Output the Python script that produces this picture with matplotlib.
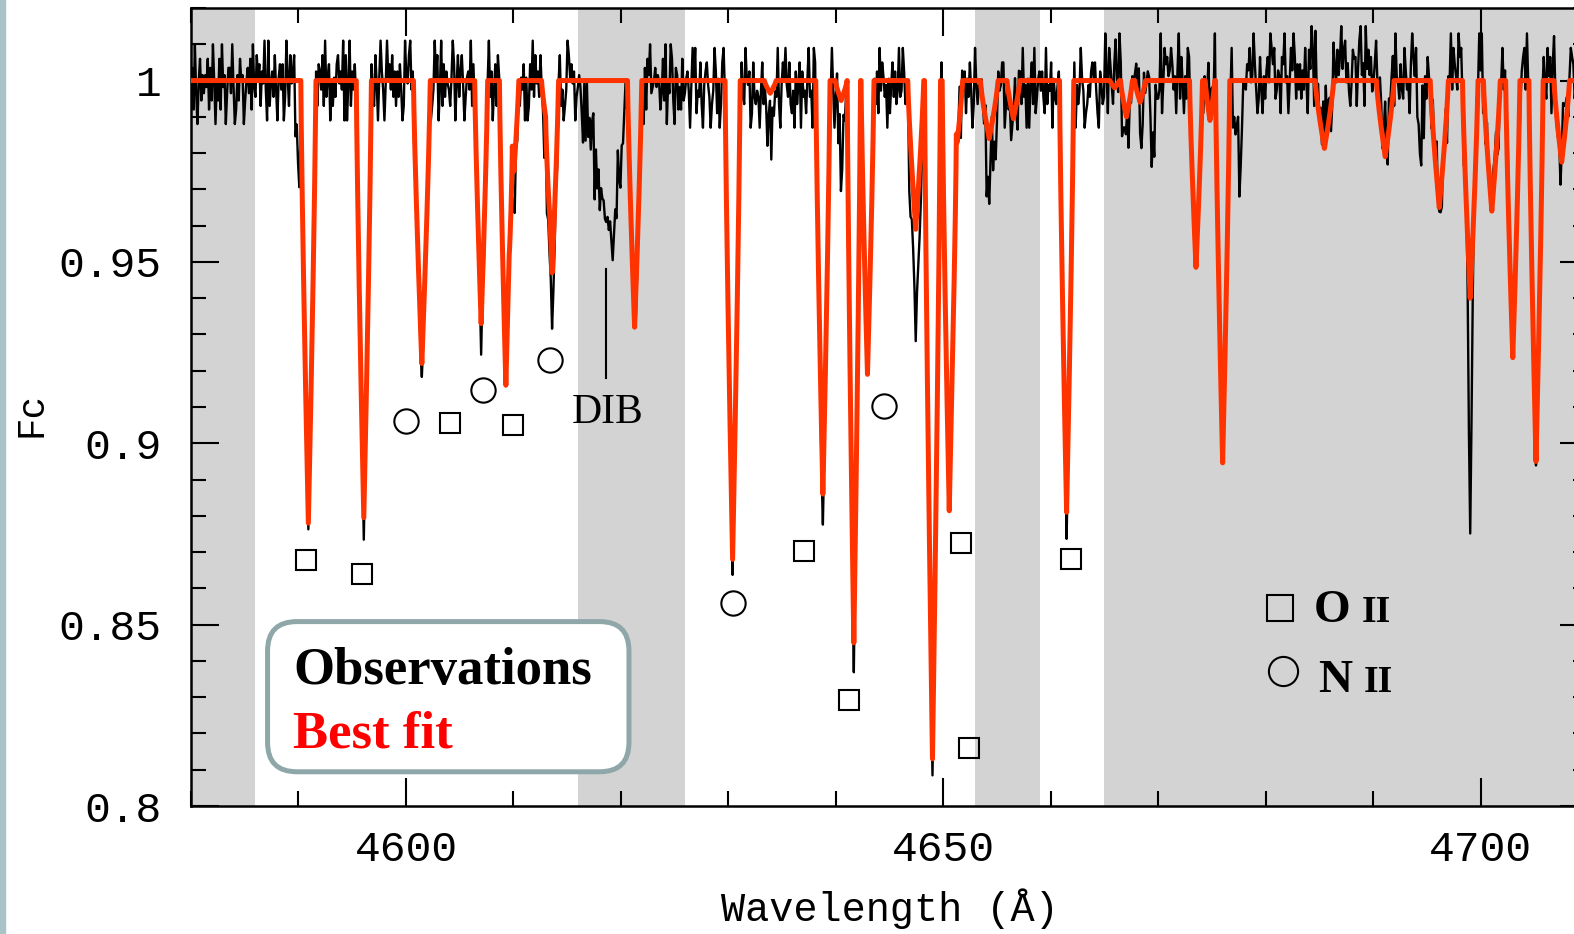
import numpy as np
import matplotlib
matplotlib.use("Agg")
import matplotlib.pyplot as plt
from matplotlib.patches import FancyBboxPatch, Rectangle
from matplotlib.ticker import MultipleLocator, FixedLocator, FixedFormatter

line_centre = [4590.92, 4596.08, 4601.48, 4607.00, 4609.30, 4610.05, 4613.00, 4613.60,
               4621.28, 4630.40, 4633.90, 4638.80, 4640.50, 4641.68, 4642.95, 4647.44,
               4649.00, 4650.56, 4651.30, 4654.28, 4656.53, 4661.48, 4665.95, 4667.05,
               4668.32, 4673.52, 4674.82, 4676.00, 4685.47, 4691.13, 4696.16, 4699.04,
               4701.05, 4703.00, 4705.16, 4707.55]
fit_depth = [0.122, 0.1205, 0.078, 0.067, 0.084, 0.025, 0.010, 0.053,
             0.068, 0.132, 0.0035, 0.114, 0.0055, 0.155, 0.081, 0.041,
             0.187, 0.1186, 0.017, 0.016, 0.0105, 0.119, 0.002, 0.010,
             0.006, 0.0515, 0.011, 0.1054, 0.0187, 0.021, 0.035, 0.060,
             0.036, 0.0764, 0.105, 0.0225]
obs_depth = [0.124, 0.125, 0.082, 0.074, 0.084, 0.040, 0.014, 0.070,
             0.071, 0.134, 0.015, 0.122, 0.018, 0.162, 0.081, 0.066,
             0.192, 0.120, 0.017, 0.025, 0.0105, 0.1205, 0.002, 0.019,
             0.012, 0.0525, 0.011, 0.106, 0.0187, 0.021, 0.039, 0.060,
             0.036, 0.0764, 0.109, 0.0225]
half_width = [0.70, 0.70, 0.78, 0.60, 0.60, 0.45, 0.38, 0.60,
              0.66, 0.70, 0.55, 0.66, 0.55, 0.62, 0.60, 0.74,
              0.74, 0.66, 0.50, 0.82, 0.60, 0.66, 0.44, 0.55,
              0.50, 0.60, 0.44, 0.66, 0.86, 0.82, 0.84, 0.72,
              0.78, 0.66, 0.66, 0.72]

# features only in the observed spectrum
extra_centre = [4590.00, 4669.40, 4677.50, 4694.40, 4699.04]
extra_depth = [0.022, 0.025, 0.025, 0.025, 0.066]
extra_hw = [0.4, 0.4, 0.6, 0.4, 0.3]

# diffuse interstellar band
dib_centre = 4619.23
dib_depth = 0.045
dib_blue_hw = 3.1
dib_red_hw = 1.4

# single tall spikes in the observations
spike_wave = [4644.44, 4688.24]
spike_add = [0.014, 0.009]

# local continuum level of the observations (from each wavelength on)
cont_wave = [4580, 4586, 4616, 4626, 4665, 4684, 4692]
cont_level = [0.999, 1.000, 0.999, 0.998, 1.002, 1.004, 1.002]

# observed spectrum: start, step and noise (one digit per pixel, see noise_levels)
obs_start = 4580.0
obs_step = 0.12
noise_levels = [-0.011, -0.007, -0.0045, -0.0025, -0.0008, 0.0008, 0.0025, 0.0045, 0.007, 0.011]
noise_digits = """
4719305826 3648172950 5281946037 7394016285 6025738194
2857164930 9146283057 3702951846 8163047592 4590382617
6381925704 1527846390 8049163725 5936270184 7218405963
0495738261 6273019548 9361842705 2784650139 5803917264
3159704826 8402563917 1675829043 4926037185 6730148592
9284615370 5017392846 2843061759 7569248130 1398574602
4652081937 3890726154 6127495038 0941536827 8536901472
2071869345 7465138290 5398207614 1823674059 6914382057
8530249716 0289473651 4716950832 9657018324 3048265179
1746392058 6953821407 2580734169 3409826571 7862513940
5928017463 4132695780 8035172946 6271948035 0615837249
3497256018 9806413527 1469385720 5784102693 2350769184
7163840295 2548769031 6913027458 8026351479 4187293506
0582913674 7319254806 3257846190 1693780524 9640125378
6841075239 5086317942 9702458163 4358692017 2379846051
1290386745 8624059173 0418736295 7816204359 5763918420
9457621803 3790148526 5834962017 2041573986 8125407693
4038597162 6152830749 7093625184 9365018427 3694782510
2716048935 0947361258 4286159307 5780943162 1852306974
8365290417 4218579360 1657043928 6429781035 7034651829
5903172684 9671043825 3920584716 0157829346 4586123097
3184706952 2305987614 8761392045 7842036159 6219057438
"""

# identified lines marked under the spectrum
o2_wave = [4590.70, 4595.94, 4604.07, 4609.96, 4637.09, 4641.21, 4651.69, 4652.44, 4661.89]
o2_flux = [0.8679, 0.8640, 0.9055, 0.9050, 0.8704, 0.8291, 0.8726, 0.8161, 0.8682]
n2_wave = [4600.05, 4607.16, 4613.43, 4630.46, 4644.48]
n2_flux = [0.9061, 0.9147, 0.9230, 0.8560, 0.9103]

# regions shaded in grey
band_start = [4580, 4616, 4653, 4665]
band_end = [4586, 4626, 4659, 4710]

y_ticks = [0.8, 0.85, 0.9, 0.95, 1.0]
y_tick_labels = ["0.8", "0.85", "0.9", "0.95", "1"]

FIG_W, FIG_H = 1574, 934
AX_LEFT, AX_RIGHT, AX_TOP, AX_BOTTOM = 191, 1588, 8, 806   # pixels
FIT_RED = "#ff3300"
MONO = "Liberation Mono"
SERIF = "Liberation Serif"
POWER = 0.8


def absorption(wave, centre, depth, hw_blue, hw_red, power=POWER):
    """Depth of one line at each wavelength."""
    dist = np.where(wave < centre, (centre - wave) / hw_blue, (wave - centre) / hw_red)
    return depth * np.clip(1.0 - dist, 0.0, None) ** power


def fit_spectrum(wave):
    flux = np.ones_like(wave)
    for c, d, hw in zip(line_centre, fit_depth, half_width):
        flux -= absorption(wave, c, d, hw, hw)
    return flux


def observed_spectrum():
    digits = "".join(noise_digits.split())
    wave = obs_start + obs_step * np.arange(len(digits))
    absorbed = np.zeros_like(wave)
    for c, d, hw in zip(line_centre, obs_depth, half_width):
        absorbed += absorption(wave, c, d, hw, hw)
    for c, d, hw in zip(extra_centre, extra_depth, extra_hw):
        absorbed += absorption(wave, c, d, hw, hw)
    absorbed += absorption(wave, dib_centre, dib_depth, dib_blue_hw, dib_red_hw, power=1.0)
    level = np.array(cont_level)[np.searchsorted(cont_wave, wave, side="right") - 1]
    noise = np.array([noise_levels[int(ch)] for ch in digits])
    # the noise is weaker in the cores of the deep lines
    noise = np.where(absorbed > 0.03, 0.35 * noise, noise)
    flux = level - absorbed + noise
    for w, s in zip(spike_wave, spike_add):
        flux[np.argmin(np.abs(wave - w))] += s
    return wave, flux


def draw():
    fig = plt.figure(figsize=(FIG_W / 100, FIG_H / 100), dpi=100)
    fig.patches.append(Rectangle((0, 0), 5 / FIG_W, 1, transform=fig.transFigure,
                                 color="#a8c4c7", zorder=0))
    ax = fig.add_axes([AX_LEFT / FIG_W, 1 - AX_BOTTOM / FIG_H,
                       (AX_RIGHT - AX_LEFT) / FIG_W, (AX_BOTTOM - AX_TOP) / FIG_H])

    for a, b in zip(band_start, band_end):
        ax.axvspan(a, b, color="#d3d3d3", lw=0, zorder=0)

    wave, flux = observed_spectrum()
    ax.plot(wave, flux, color="black", lw=1.7, zorder=2)
    fine = np.linspace(4580, 4710, 13001)
    ax.plot(fine, fit_spectrum(fine), color=FIT_RED, lw=3.6, zorder=3,
            solid_capstyle="round", solid_joinstyle="round")

    ax.plot(o2_wave, o2_flux, "s", ms=15, mfc="none", mec="black", mew=1.5, zorder=4)
    ax.plot(n2_wave, n2_flux, "o", ms=17.5, mfc="none", mec="black", mew=1.5, zorder=4)

    # DIB mark
    ax.plot([4618.6, 4618.6], [0.948, 0.918], color="black", lw=1.5, zorder=4)
    ax.text(4618.8, 0.9085, "DIB", family=SERIF, fontsize=30, ha="center", va="center")

    # species key
    ax.plot([4681.33], [0.8545], "s", ms=18.5, mfc="none", mec="black", mew=1.5)
    ax.plot([4681.64], [0.8371], "o", ms=21, mfc="none", mec="black", mew=1.5)
    ax.text(4684.44, 0.8506, "O", family=SERIF, weight="bold", fontsize=34, va="baseline")
    ax.text(4688.9, 0.8506, "II", family=SERIF, weight="bold", fontsize=27, va="baseline")
    ax.text(4684.86, 0.8313, "N", family=SERIF, weight="bold", fontsize=34, va="baseline")
    ax.text(4689.1, 0.8313, "II", family=SERIF, weight="bold", fontsize=27, va="baseline")

    # rounded box with the two labels
    ax_w = AX_RIGHT - AX_LEFT
    ax_h = AX_BOTTOM - AX_TOP
    box = FancyBboxPatch((0.0548, 0.0429), 0.3135 - 0.0548, 0.2311 - 0.0429,
                         boxstyle="round,pad=0,rounding_size=0.021",
                         mutation_aspect=ax_w / ax_h, transform=ax.transAxes,
                         fc="white", ec="#8fa7a9", lw=3.6, zorder=5)
    ax.add_patch(box)
    ax.text(4589.5, 0.8336, "Observations", family=SERIF, weight="bold", fontsize=38,
            color="black", va="baseline", zorder=6)
    ax.text(4589.5, 0.8161, "Best fit", family=SERIF, weight="bold", fontsize=38,
            color="#ff0000", va="baseline", zorder=6)

    ax.set_xlim(4580, 4710)
    ax.set_ylim(0.8, 1.02)
    ax.xaxis.set_major_locator(MultipleLocator(50))
    ax.xaxis.set_minor_locator(MultipleLocator(10))
    ax.yaxis.set_major_locator(FixedLocator(y_ticks))
    ax.yaxis.set_major_formatter(FixedFormatter(y_tick_labels))
    ax.yaxis.set_minor_locator(MultipleLocator(0.01))
    ax.tick_params(which="both", direction="in", top=True, right=True, width=1.5)
    ax.tick_params(which="major", length=20)
    ax.tick_params(which="minor", length=11)
    ax.tick_params(axis="x", pad=17)
    ax.tick_params(axis="y", pad=21)
    for lab in ax.get_xticklabels() + ax.get_yticklabels():
        lab.set_family(MONO)
        lab.set_fontsize(31)
    for sp in ax.spines.values():
        sp.set_linewidth(1.8)

    ax.text(0.5, -0.129, "Wavelength (Å)", transform=ax.transAxes, family=MONO,
            fontsize=29, ha="center", va="center")
    ax.text(-0.114, 0.49, "Fc", transform=ax.transAxes, family=MONO, fontsize=27,
            rotation=90, ha="center", va="center")

    fig.savefig("out.png", dpi=100)


if __name__ == "__main__":
    draw()
